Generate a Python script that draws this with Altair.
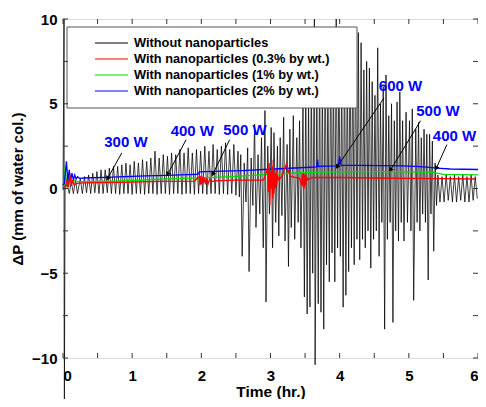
import altair as alt
import numpy as np
import pandas as pd

W, H = 415, 339
FONT = "Liberation Sans"

SERIES = [
    "Without nanoparticles",
    "With nanoparticles (0.3% by wt.)",
    "With nanoparticles (1% by wt.)",
    "With nanoparticles (2% by wt.)",
]
COLORS = ["#000000", "#ff0000", "#00dd00", "#0000ff"]

# ---- black trace (without nanoparticles) ----
BLACK_T_START = [0.0, 0.015, 0.02, 0.03, 0.06, 0.09, 0.12, 0.15, 0.18, 0.21, 0.25, 0.28]
BLACK_V_START = [-0.1, 10.0, -12.6, -0.1, 0.3, -0.3, 0.4, -0.3, 0.5, -0.3, 0.6, -0.3]

BLACK_T_REG = [0.31, 0.34, 0.37, 0.40, 0.43, 0.46, 0.49, 0.52, 0.55, 0.58, 0.61, 0.64,
               0.67, 0.70, 0.73, 0.76, 0.79, 0.82, 0.85, 0.88, 0.91, 0.94, 0.97, 1.00,
               1.03, 1.06, 1.09, 1.12, 1.15, 1.18, 1.21, 1.24, 1.27, 1.30, 1.33, 1.36,
               1.39, 1.42, 1.45, 1.48, 1.51, 1.54, 1.57, 1.60, 1.63, 1.66, 1.69, 1.72,
               1.75, 1.78, 1.81, 1.84, 1.87, 1.90, 1.93, 1.96, 1.99, 2.02, 2.05, 2.08,
               2.11, 2.14, 2.17, 2.20, 2.23, 2.26, 2.29, 2.32, 2.35, 2.38, 2.41, 2.44,
               2.47, 2.50, 2.53, 2.55]
BLACK_V_REG = [0.7, -0.25, 0.8, -0.3, 0.9, -0.25, 1.0, -0.3, 1.1, -0.3, 1.1, -0.25,
               1.2, -0.3, 1.3, -0.3, 1.3, -0.35, 1.4, -0.3, 1.5, -0.3, 1.4, -0.35,
               1.6, -0.3, 1.5, -0.3, 1.7, -0.35, 1.6, -0.3, 1.8, -0.3, 2.2, -0.35,
               1.8, -0.3, 2.0, -0.3, 1.9, -0.35, 2.1, -0.3, 2.0, -0.3, 2.3, -0.35,
               2.1, -0.3, 2.4, -0.3, 2.1, -0.35, 2.3, -0.3, 2.2, -0.3, 2.5, -0.35,
               2.2, -0.3, 2.6, -0.3, 2.3, -0.35, 2.5, -0.3, 2.7, -0.35, 2.3, -0.3,
               2.6, -0.4, 2.2, -0.5]

BLACK_T_CHAOS = [2.57, 2.59, 2.62, 2.645, 2.67, 2.69, 2.72, 2.745, 2.77, 2.79,
                 2.82, 2.845, 2.87, 2.895, 2.92, 2.935, 2.96, 2.985, 3.01, 3.03,
                 3.05, 3.075, 3.10, 3.12, 3.14, 3.165, 3.19, 3.21, 3.24, 3.26,
                 3.28, 3.30, 3.33, 3.35, 3.38, 3.40, 3.42, 3.44, 3.47, 3.49,
                 3.51, 3.53, 3.55, 3.57, 3.59, 3.61, 3.635, 3.645, 3.67, 3.69,
                 3.71, 3.73, 3.75, 3.77, 3.79, 3.81, 3.83, 3.85, 3.87, 3.89,
                 3.91, 3.93, 3.95, 3.97, 3.99, 4.01, 4.03, 4.05, 4.07, 4.09,
                 4.11, 4.13, 4.15, 4.17, 4.19, 4.21, 4.23, 4.25, 4.27, 4.29,
                 4.31, 4.33, 4.35, 4.37, 4.39, 4.41, 4.43, 4.45, 4.47, 4.49,
                 4.51, 4.53, 4.55, 4.57, 4.59, 4.61, 4.63, 4.65, 4.67, 4.69,
                 4.71, 4.73, 4.75, 4.77, 4.79, 4.81, 4.83, 4.85, 4.87, 4.89,
                 4.91, 4.93, 4.96, 4.98, 5.01, 5.03, 5.05, 5.07, 5.10, 5.12,
                 5.14, 5.16, 5.18, 5.20, 5.22, 5.24, 5.26, 5.28, 5.30, 5.32,
                 5.34, 5.36, 5.38, 5.40]
BLACK_V_CHAOS = [2.0, -4.0, 1.5, -0.8, 2.4, -4.9, 1.8, -1.0, 3.8, -2.3,
                 2.0, -1.5, 3.0, -3.5, 4.6, -6.7, 2.5, -1.5, 3.6, -3.5,
                 3.3, -2.0, 2.5, -2.8, 3.0, -1.6, 4.2, -3.1, 2.6, -4.6,
                 3.5, -2.3, 4.3, -3.0, 3.0, -2.0, 4.0, -3.5, 5.0, -6.4,
                 6.5, -7.4, 5.5, -7.0, 7.0, -5.0, 10.0, -10.4, 6.0, -6.8,
                 8.0, -7.3, 7.0, -8.3, 9.5, -4.5, 6.5, -5.5, 8.5, -3.8,
                 7.5, -5.5, 10.0, -3.5, 8.0, -4.0, 7.0, -7.0, 9.0, -6.3,
                 8.0, -4.9, 9.3, -3.5, 8.5, -4.5, 8.9, -3.0, 9.2, -4.2,
                 8.6, -3.0, 7.0, -3.5, 7.5, -2.5, 7.1, -4.7, 6.3, -3.0,
                 5.5, -2.5, 8.3, -4.0, 5.0, -2.0, 6.0, -8.3, 6.7, -3.0,
                 4.3, -2.0, 5.0, -7.9, 4.0, -2.5, 5.1, -3.1, 5.7, -2.0,
                 4.0, -3.1, 4.5, -2.0, 4.0, -2.5, 4.7, -6.6, 3.5, -2.0,
                 3.9, -2.5, 3.0, -1.5, 3.5, -2.0, 3.2, -5.4, 3.2, -1.5,
                 2.8, -3.7, 1.5, -1.0]

BLACK_T_END = [5.42, 5.45, 5.48, 5.51, 5.54, 5.57, 5.60, 5.63, 5.66, 5.69,
               5.72, 5.75, 5.78, 5.81, 5.84, 5.87, 5.90, 5.93, 5.96, 5.99]
BLACK_V_END = [0.8, -0.8, 0.7, -0.8, 0.8, -0.7, 0.7, -0.8, 0.8, -0.8,
               0.7, -0.7, 0.8, -0.8, 0.7, -0.8, 0.8, -0.7, 0.7, -0.6]

# ---- coloured traces ----
RED_T = [0.0, 0.03, 0.06, 0.08, 0.10, 0.12, 0.14, 0.16, 0.20, 0.30, 0.60, 1.00, 1.40, 1.90,
         1.97, 1.98, 1.99, 2.00, 2.02, 2.03, 2.05, 2.06, 2.08, 2.10, 2.12, 2.14, 2.20, 2.50, 2.90,
         2.96, 2.97, 2.98, 2.99, 3.00, 3.01, 3.02, 3.03, 3.04, 3.05, 3.06, 3.07, 3.08, 3.09, 3.10,
         3.12, 3.16, 3.20, 3.23, 3.26, 3.30, 3.36, 3.42,
         3.45, 3.46, 3.47, 3.48, 3.49, 3.50, 3.51, 3.52, 3.54, 3.60, 4.00, 4.50, 5.00, 5.50, 5.96]
RED_V = [0.0, 0.1, 0.5, 0.1, 0.8, 0.15, 0.5, 0.2, 0.3, 0.33, 0.35, 0.38, 0.42, 0.44,
         0.7, 0.2, 0.75, 0.25, 0.7, 0.3, 0.65, 0.25, 0.6, 0.3, 0.55, 0.4, 0.45, 0.5, 0.5,
         1.2, -0.2, 1.5, -1.0, 1.0, 0.0, 1.3, -0.6, 1.7, -0.3, 0.9, 0.0, 1.1, 0.2, 0.8,
         0.5, 0.7, 1.1, 1.45, 1.0, 0.7, 0.65, 0.6,
         0.2, 0.9, 0.1, 0.8, 0.0, 0.9, 0.2, 0.7, 0.5, 0.65, 0.65, 0.62, 0.6, 0.58, 0.56]

GREEN_T = [0.0, 0.02, 0.03, 0.05, 0.07, 0.09, 0.11, 0.13, 0.16, 0.20, 0.30, 0.60, 1.00,
           1.30, 1.60, 2.00, 2.50, 2.90, 3.30, 3.60, 4.00, 4.40, 4.80, 5.20, 5.35, 5.50, 6.00]
GREEN_V = [0.1, 0.3, 1.3, 0.2, 0.8, 0.3, 0.6, 0.35, 0.5, 0.4, 0.4, 0.42, 0.47,
           0.53, 0.58, 0.63, 0.72, 0.82, 0.90, 0.95, 0.98, 1.0, 1.0, 0.97, 0.95, 0.83, 0.80]

BLUE_T = [0.0, 0.02, 0.05, 0.07, 0.09, 0.11, 0.13, 0.15, 0.17, 0.19, 0.21, 0.24, 0.30, 0.60,
          0.90, 1.20, 1.50, 1.80, 1.95, 1.97, 2.30, 2.60, 2.90, 3.20, 3.50, 3.67, 3.68, 3.69,
          3.80, 3.98, 4.00, 4.02, 4.30, 4.60, 4.90, 5.10, 5.30, 5.40, 5.60, 6.00]
BLUE_V = [0.2, 0.3, 1.6, 0.4, 1.1, 0.5, 0.9, 0.5, 0.8, 0.55, 0.7, 0.6, 0.62, 0.66,
          0.70, 0.74, 0.78, 0.82, 0.84, 0.98, 1.02, 1.06, 1.12, 1.18, 1.24, 1.28, 1.70, 1.30,
          1.32, 1.34, 1.90, 1.36, 1.36, 1.35, 1.33, 1.30, 1.25, 1.20, 1.15, 1.12]

# ---- annotations ----
LABEL_TEXT = ["300 W", "400 W", "500 W", "600 W", "500 W", "400 W"]
LABEL_T = [0.91, 1.87, 2.63, 4.88, 5.42, 5.66]
LABEL_V = [2.74, 3.39, 3.44, 6.06, 4.59, 3.12]
ARROW_T1 = [0.85, 1.78, 2.41, 4.64, 5.17, 5.55]
ARROW_V1 = [2.10, 2.88, 2.88, 5.34, 4.00, 2.59]
ARROW_T2 = [0.65, 1.52, 2.17, 3.97, 4.74, 5.40]
ARROW_V2 = [0.63, 0.88, 0.88, 1.31, 1.12, 1.22]

X_TICKS = [0, 0.5, 1, 1.5, 2, 2.5, 3, 3.5, 4, 4.5, 5, 5.5, 6]
Y_TICKS = [-10, -7.5, -5, -2.5, 0, 2.5, 5, 7.5, 10]
X_LABELS = [0, 1, 2, 3, 4, 5, 6]
Y_LABELS = [-10, -5, 0, 5, 10]

# ---- build tables ----
black_t = BLACK_T_START + BLACK_T_REG + BLACK_T_CHAOS + BLACK_T_END
black_v = BLACK_V_START + BLACK_V_REG + BLACK_V_CHAOS + BLACK_V_END
assert len(black_t) == len(black_v)
assert len(RED_T) == len(RED_V) and len(GREEN_T) == len(GREEN_V) and len(BLUE_T) == len(BLUE_V)

frames = []
for name, ts, vs in [(SERIES[0], black_t, black_v), (SERIES[1], RED_T, RED_V),
                     (SERIES[2], GREEN_T, GREEN_V), (SERIES[3], BLUE_T, BLUE_V)]:
    frames.append(pd.DataFrame({"series": name, "t": ts, "v": vs, "i": range(len(ts))}))
df = pd.concat(frames, ignore_index=True)

xs = alt.Scale(domain=[0, 6], nice=False, zero=False)
ys = alt.Scale(domain=[-10, 10], nice=False, zero=False)
cs = alt.Scale(domain=SERIES, range=COLORS)

x_axis = alt.Axis(values=X_LABELS, format="d", title="Time (hr.)", grid=False, ticks=False,
                  tickSize=0, domain=False, labelFont=FONT, labelFontWeight="bold",
                  labelFontSize=15, labelColor="black", labelPadding=10, titleFont=FONT,
                  titleFontWeight="bold", titleFontSize=15.5, titleColor="black",
                  titlePadding=1)
y_axis = alt.Axis(values=Y_LABELS, format="d", title="ΔP (mm of water col.)", grid=False,
                  ticks=False, tickSize=0, domain=False, labelFont=FONT,
                  labelFontWeight="bold", labelFontSize=15, labelColor="black",
                  labelPadding=6, titleFont=FONT, titleFontWeight="bold", titleFontSize=15,
                  titleColor="black", titlePadding=6)


def X(field):
    return alt.X(field, scale=xs, axis=x_axis)


def Y(field):
    return alt.Y(field, scale=ys, axis=y_axis)


COLOR = alt.Color("series:N", scale=cs, legend=None)


def series_layer(idx, width):
    return (alt.Chart(df)
            .transform_filter(alt.datum.series == SERIES[idx])
            .mark_line(strokeWidth=width, clip=False)
            .encode(x=X("t:Q"), y=Y("v:Q"), color=COLOR, order=alt.Order("i:Q")))


black = series_layer(0, 0.75)
green = series_layer(2, 1.3)
blue = series_layer(3, 1.3)
red = series_layer(1, 1.3)

# legend frame and entries (drawn over the data)
box = (alt.Chart(pd.DataFrame({"k": [0]}))
       .mark_rect(fill="white", stroke="#555555", strokeWidth=1)
       .encode(x=alt.value(4), x2=alt.value(294), y=alt.value(8), y2=alt.value(89)))
leg_df = pd.DataFrame({"series": SERIES, "row": [0, 1, 2, 3]})
leg_base = alt.Chart(leg_df).transform_calculate(ly="24 + 16 * datum.row")
leg_lines = leg_base.mark_rule(strokeWidth=1).encode(
    x=alt.value(32), x2=alt.value(65), y=alt.Y("ly:Q", scale=None), color=COLOR)
leg_text = leg_base.mark_text(font=FONT, fontWeight="bold", fontSize=12.8, color="black",
                              align="left", baseline="middle").encode(
    x=alt.value(71), y=alt.Y("ly:Q", scale=None), text="series:N")

# inward ticks on all four sides
xt = pd.DataFrame({"t": X_TICKS})
yt = pd.DataFrame({"v": Y_TICKS})
tick_style = dict(color="#333333", strokeWidth=1)
tick_b = alt.Chart(xt).mark_rule(**tick_style).encode(
    x=X("t:Q"), y=alt.value(H), y2=alt.value(H - 5))
tick_t = alt.Chart(xt).mark_rule(**tick_style).encode(
    x=X("t:Q"), y=alt.value(0), y2=alt.value(5))
tick_l = alt.Chart(yt).mark_rule(**tick_style).encode(
    y=Y("v:Q"), x=alt.value(0), x2=alt.value(5))
tick_r = alt.Chart(yt).mark_rule(**tick_style).encode(
    y=Y("v:Q"), x=alt.value(W), x2=alt.value(W - 5))

# annotations
ann = pd.DataFrame({"txt": LABEL_TEXT, "t": LABEL_T, "v": LABEL_V})
arr = pd.DataFrame({"t1": ARROW_T1, "v1": ARROW_V1, "t2": ARROW_T2, "v2": ARROW_V2})
dx_px = (arr["t2"] - arr["t1"]) * W / 6.0
dy_px = -(arr["v2"] - arr["v1"]) * H / 20.0
arr["ang"] = np.mod(np.degrees(np.arctan2(dx_px, -dy_px)), 360)

texts = alt.Chart(ann).mark_text(font=FONT, fontWeight="bold", fontSize=15, color="#0000ff",
                                 align="center", baseline="middle").encode(
    x=X("t:Q"), y=Y("v:Q"), text="txt:N")
shafts = alt.Chart(arr).mark_rule(color="black", strokeWidth=1).encode(
    x=X("t1:Q"), y=Y("v1:Q"), x2="t2:Q", y2="v2:Q")
heads = alt.Chart(arr).mark_point(shape="triangle", filled=True, size=28, color="black",
                                  opacity=1).encode(
    x=X("t2:Q"), y=Y("v2:Q"), angle=alt.Angle("ang:Q", scale=None))

chart = alt.layer(
    black, green, blue, red, box, leg_lines, leg_text, shafts, heads, texts,
    tick_b, tick_t, tick_l, tick_r
).properties(
    width=W, height=H,
    autosize=alt.AutoSizeParams(type="none"),
    padding={"left": 55, "top": 11, "right": 0, "bottom": 41},
).configure_view(stroke="#333333", strokeWidth=1).configure(background="white")

chart.save("out.html", embed_options={"renderer": "svg", "actions": False})
